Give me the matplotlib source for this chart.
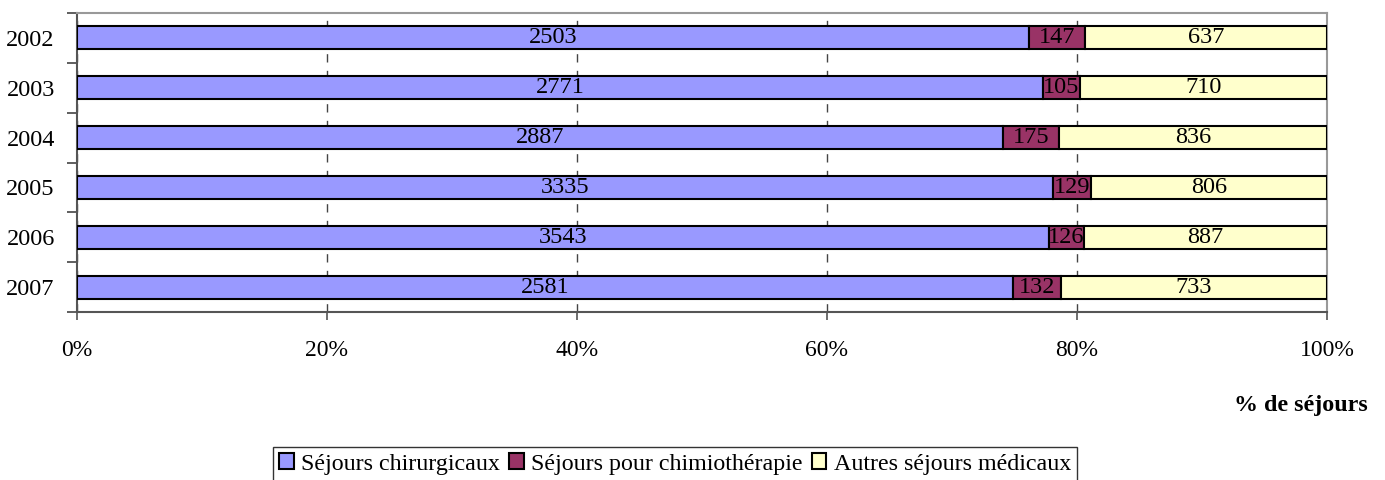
import numpy as np
import matplotlib
matplotlib.use('Agg')
import matplotlib.pyplot as plt
from matplotlib.ticker import FixedLocator, PercentFormatter

plt.rcParams['font.family'] = ['Liberation Serif', 'DejaVu Serif']

# data
years = ['2002', '2003', '2004', '2005', '2006', '2007']
chirurgicaux = [2503, 2771, 2887, 3335, 3543, 2581]
chimio = [147, 105, 175, 129, 126, 132]
autres = [637, 710, 836, 806, 887, 733]

series = [chirurgicaux, chimio, autres]
names = ['Séjours chirurgicaux', 'Séjours pour chimiothérapie', 'Autres séjours médicaux']
colors = ['#9999FF', '#993366', '#FFFFCC']

vals = np.array(series, dtype=float)
tot = vals.sum(axis=0)
pct = vals / tot * 100

fig = plt.figure(figsize=(13.85, 4.8), dpi=100)
ax = fig.add_axes([77/1385, 1 - 312/480, 1250/1385, 299/480])

y = np.arange(len(years))
left = np.zeros(len(years))
for i in range(3):
    ax.barh(y, pct[i], left=left, height=0.46, color=colors[i],
            edgecolor='black', linewidth=1.5, label=names[i], zorder=3)
    for j in range(len(years)):
        ax.text(left[j] + pct[i][j] / 2, y[j], str(series[i][j]),
                ha='center', va='center', fontsize=17.5, zorder=4)
    left += pct[i]

ax.set_xlim(0, 100)
ax.set_ylim(len(years) - 0.5, -0.5)
ax.set_xticks([0, 20, 40, 60, 80, 100])
ax.xaxis.set_major_formatter(PercentFormatter(decimals=0))
ax.set_yticks(y)
ax.set_yticklabels(years)
ax.yaxis.set_minor_locator(FixedLocator(np.arange(-0.5, len(years), 1.0)))
ax.tick_params(axis='y', which='major', length=0, pad=16, labelsize=17.5)
ax.tick_params(axis='y', which='minor', length=7, width=1.2, color='#444444', direction='out')
ax.tick_params(axis='x', length=6, width=1.2, color='#555555', pad=14, labelsize=17)

ax.xaxis.grid(True, linestyle=(0, (6, 6)), color='#444444', linewidth=1, zorder=0)
ax.set_axisbelow(True)

for s in ['top', 'right']:
    ax.spines[s].set_color('#999999')
    ax.spines[s].set_linewidth(1.5)
for s in ['left', 'bottom']:
    ax.spines[s].set_color('#555555')
    ax.spines[s].set_linewidth(1.5)

fig.text(1368/1385, 1 - 405/480, '% de séjours', ha='right', va='center',
         fontsize=17.3, fontweight='bold')

leg = fig.legend(loc='center', bbox_to_anchor=(675/1385, 1 - 464/480), ncol=3,
                 fontsize=17.3, frameon=True, fancybox=False, handlelength=0.6,
                 handleheight=0.6, handletextpad=0.3, columnspacing=0.4,
                 borderpad=0.25, borderaxespad=0)
leg.get_frame().set_edgecolor('black')
leg.get_frame().set_linewidth(1)

fig.savefig('out.png', dpi=100)
